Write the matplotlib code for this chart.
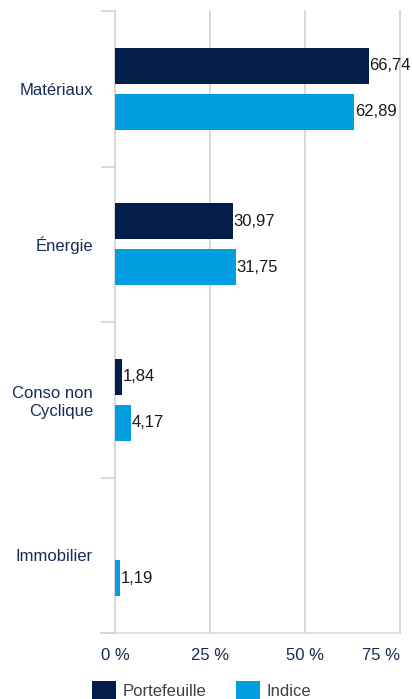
import matplotlib
matplotlib.use("Agg")
import matplotlib.pyplot as plt
from matplotlib.patches import Patch
import numpy as np

categories = ["Matériaux", "Énergie", "Conso non\nCyclique", "Immobilier"]
portefeuille = [66.74, 30.97, 1.84, 0.0]
indice = [62.89, 31.75, 4.17, 1.19]
series_names = ["Portefeuille", "Indice"]
xticks = [0, 25, 50, 75]
xtick_labels = ["0 %", "25 %", "50 %", "75 %"]

plt.rcParams['font.family'] = ['Liberation Sans', 'DejaVu Sans']

NAVY = '#041e4c'
BLUE = '#009fe0'
TXT = '#172b55'

W, H = 412, 699
fig = plt.figure(figsize=(W / 100, H / 100), dpi=100)
ax = fig.add_axes([115 / W, (H - 633) / H, 285 / W, 622 / H])

y = np.arange(len(categories))
off, h = 0.148, 0.232
b1 = ax.barh(y - off, portefeuille, height=h, color=NAVY, edgecolor='none')
b2 = ax.barh(y + off, indice, height=h, color=BLUE, edgecolor='none')

for bars, vals in ((b1, portefeuille), (b2, indice)):
    for bar, v in zip(bars, vals):
        if v <= 0:
            continue
        ax.text(v + 0.25, bar.get_y() + bar.get_height() / 2,
                f"{v:.2f}".replace('.', ','), va='center', ha='left',
                fontsize=12, color='#1a1a1a')

ax.set_xlim(0, 75)
ax.set_ylim(3.5, -0.5)

ax.set_xticks(xticks)
ax.set_xticklabels(xtick_labels)
ax.tick_params(axis='x', length=0, pad=11, labelsize=12, labelcolor=TXT)
lbls = ax.get_xticklabels()
lbls[-1].set_horizontalalignment('right')

ax.set_yticks(y)
ax.set_yticklabels(categories)
ax.tick_params(axis='y', which='major', length=0, pad=15.8, labelsize=12, labelcolor=TXT)
ax.set_yticks(np.arange(-0.5, len(categories), 1), minor=True)
ax.tick_params(axis='y', which='minor', length=10, width=1.2, color='#c9d5ea', left=True)

ax.set_axisbelow(True)
ax.xaxis.grid(True, color='#d6d6d6', linewidth=1.3)
for gl in ax.get_xgridlines():
    gl.set_clip_on(False)

for s in ax.spines.values():
    s.set_visible(False)
ax.plot([-14 / 285, 1], [0, 0], transform=ax.transAxes, clip_on=False,
        color='#d6deeb', linewidth=1.3, zorder=0.5)

handles = [Patch(facecolor=NAVY, label=series_names[0]),
           Patch(facecolor=BLUE, label=series_names[1])]
leg = fig.legend(handles=handles, loc='center', bbox_to_anchor=(201.5 / W, 9 / H),
                 ncol=2, frameon=False, fontsize=12, handlelength=1.44,
                 handleheight=1.3, handletextpad=0.42, columnspacing=1.75,
                 borderpad=0, borderaxespad=0)
for t in leg.get_texts():
    t.set_color('#404040')

fig.savefig('out.png', dpi=100)
